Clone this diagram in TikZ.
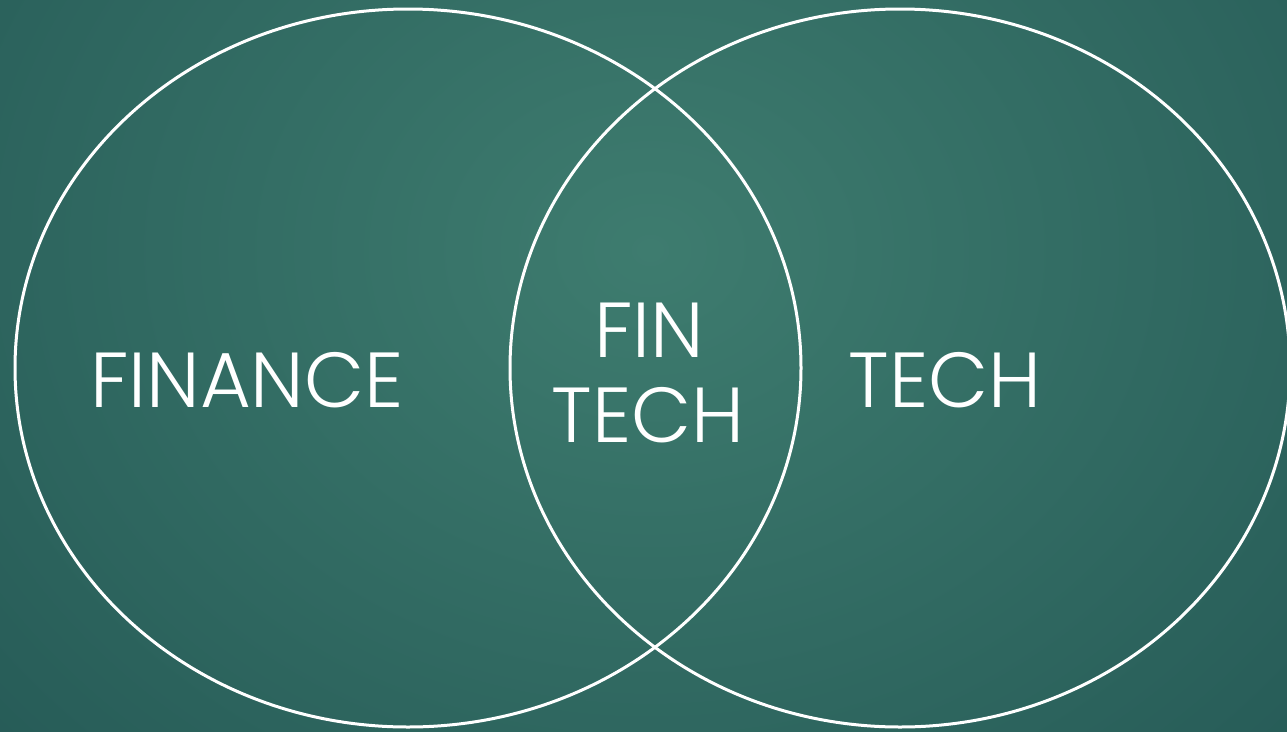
\documentclass[tikz,border=0pt]{standalone}
\usepackage{fontspec}
\setmainfont{Poppins Light}
\usetikzlibrary{positioning}
\definecolor{boardlight}{HTML}{3E7C6F}
\definecolor{boarddark}{HTML}{265B57}
\tikzstyle{ring} = [draw=white, line width=3pt]
\tikzstyle{word} = [text=white, inner sep=0pt, font=\fontsize{78}{80}\selectfont]

\begin{document}
\begin{tikzpicture}[x=1pt,y=-1pt]
\useasboundingbox (0,0) rectangle (1287,731);
\clip (0,0) rectangle (1287,731);
\shade[inner color=boardlight, outer color=boarddark] (-250,-500) rectangle (1550,1000);
\draw[ring] (408,368) ellipse [x radius=393pt, y radius=359pt];
\draw[ring] (900,368) ellipse [x radius=390pt, y radius=359pt];
\node [word] (finance) at (247,380) {FINANCE};
\node [word] (tech) at (945,380) {TECH};
\node [word] (fin) at (649,330) {FIN};
\node [word] (fintech) at (648,415) {TECH};
\end{tikzpicture}
\end{document}
